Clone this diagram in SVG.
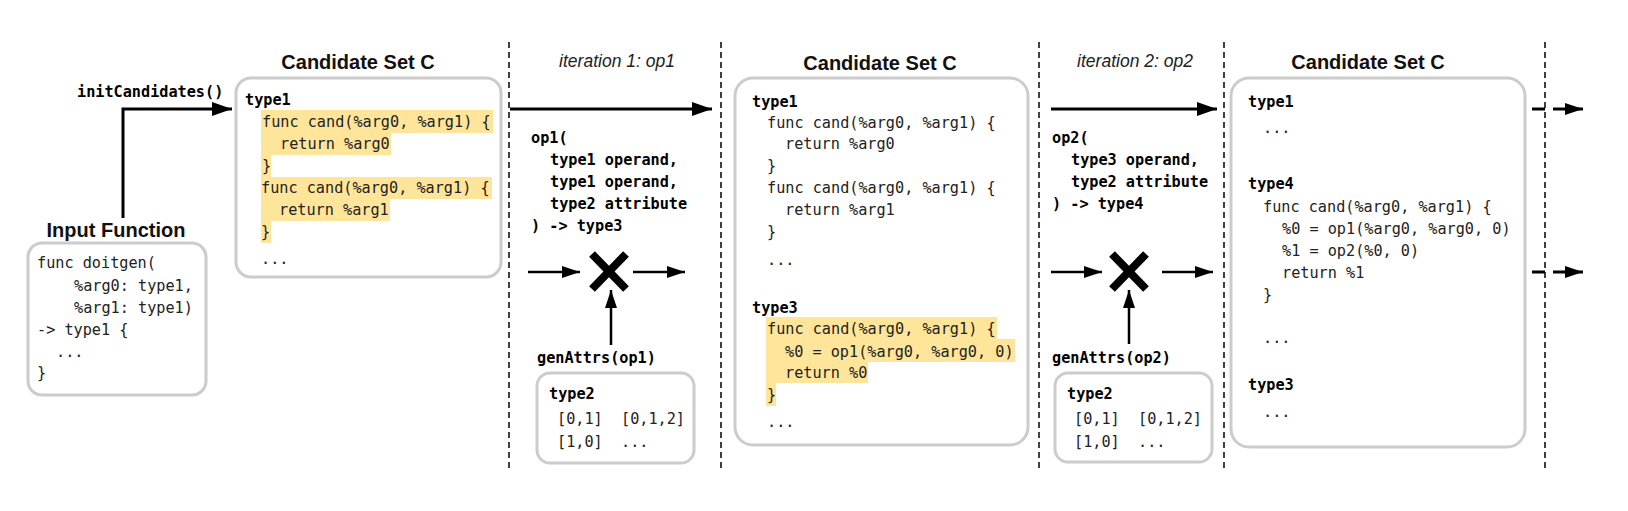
<svg xmlns="http://www.w3.org/2000/svg" width="1628" height="511" viewBox="0 0 1628 511">
<style>
.title{font-family:"Liberation Sans",Arial,sans-serif;font-weight:bold;font-size:20px;fill:#111;text-anchor:middle}
.iter{font-family:"Liberation Sans",Arial,sans-serif;font-style:italic;font-size:17.5px;fill:#222;text-anchor:middle}
.code{font-family:"DejaVu Sans Mono","Liberation Mono",monospace;font-size:15.2px;fill:#222;white-space:pre}
.bcode{font-family:"DejaVu Sans Mono","Liberation Mono",monospace;font-size:15.2px;font-weight:bold;fill:#000;white-space:pre}
.box{fill:#fff;stroke:#cccccc;stroke-width:3}
.hl{fill:#ffe59a}
.sep{stroke:#111;stroke-width:1.6;stroke-dasharray:6 4;fill:none}
.arr{stroke:#000;stroke-width:3;fill:none}
.sarr{stroke:#000;stroke-width:2.5;fill:none}
.cross{stroke:#000;stroke-width:8;fill:none}
</style>
<defs>
<marker id="ah" markerUnits="userSpaceOnUse" markerWidth="20" markerHeight="14" refX="20" refY="7" orient="auto"><path d="M0,0 L20,7 L0,14 z" fill="#000"/></marker>
<marker id="sah" markerUnits="userSpaceOnUse" markerWidth="18" markerHeight="12" refX="18" refY="6" orient="auto"><path d="M0,0 L18,6 L0,12 z" fill="#000"/></marker>
</defs>
<rect width="1628" height="511" fill="#fff"/>

<g id="separators">
<line class="sep" x1="509" y1="42" x2="509" y2="468"/>
<line class="sep" x1="721" y1="42" x2="721" y2="468"/>
<line class="sep" x1="1039" y1="42" x2="1039" y2="468"/>
<line class="sep" x1="1224" y1="42" x2="1224" y2="468"/>
<line class="sep" x1="1545" y1="42" x2="1545" y2="468"/>
</g>

<g id="input-function">
<text class="title" x="116" y="237">Input Function</text>
<rect class="box" x="28" y="243" width="178" height="152" rx="14"/>
<text class="code" x="37" y="268">func doitgen(</text>
<text class="code" x="74" y="291">%arg0: type1,</text>
<text class="code" x="74" y="313">%arg1: type1)</text>
<text class="code" x="37" y="335">-&gt; type1 {</text>
<text class="code" x="56" y="357">...</text>
<text class="code" x="37" y="378">}</text>
</g>

<g id="candidate-set-1">
<text class="title" x="358" y="69">Candidate Set C</text>
<rect class="box" x="236" y="78" width="265" height="199" rx="15"/>
<rect class="hl" x="261" y="110" width="232" height="23"/>
<rect class="hl" x="261" y="133" width="130" height="22"/>
<rect class="hl" x="261" y="155" width="10" height="22"/>
<rect class="hl" x="261" y="177" width="231" height="22"/>
<rect class="hl" x="261" y="199" width="129" height="22"/>
<rect class="hl" x="261" y="221" width="10" height="22"/>
<text class="bcode" x="245" y="105">type1</text>
<text class="code" x="262" y="127">func cand(%arg0, %arg1) {</text>
<text class="code" x="280" y="149">return %arg0</text>
<text class="code" x="262" y="171">}</text>
<text class="code" x="261" y="193">func cand(%arg0, %arg1) {</text>
<text class="code" x="279" y="215">return %arg1</text>
<text class="code" x="261" y="237">}</text>
<text class="code" x="261" y="264">...</text>
</g>

<g id="iteration-1">
<text class="iter" x="617" y="67">iteration 1: op1</text>
<text class="bcode" x="531" y="143">op1(</text>
<text class="bcode" x="550" y="165">type1 operand,</text>
<text class="bcode" x="550" y="187">type1 operand,</text>
<text class="bcode" x="550" y="209">type2 attribute</text>
<text class="bcode" x="531" y="231">) -&gt; type3</text>
<line class="cross" x1="592" y1="254" x2="626" y2="289"/>
<line class="cross" x1="626" y1="254" x2="592" y2="289"/>
<text class="bcode" x="537" y="363">genAttrs(op1)</text>
</g>

<g id="attrs-1">
<rect class="box" x="537" y="373" width="157" height="90" rx="13"/>
<text class="bcode" x="549" y="399">type2</text>
<text class="code" x="557" y="424">[0,1]  [0,1,2]</text>
<text class="code" x="557" y="447">[1,0]  ...</text>
</g>

<g id="candidate-set-2">
<text class="title" x="880" y="70">Candidate Set C</text>
<rect class="box" x="735" y="78" width="293" height="367" rx="18"/>
<rect class="hl" x="766" y="317" width="231" height="22"/>
<rect class="hl" x="766" y="339" width="249" height="23"/>
<rect class="hl" x="766" y="362" width="102" height="21"/>
<rect class="hl" x="766" y="383" width="10" height="23"/>
<text class="bcode" x="752" y="107">type1</text>
<text class="code" x="767" y="128">func cand(%arg0, %arg1) {</text>
<text class="code" x="785" y="149">return %arg0</text>
<text class="code" x="767" y="171">}</text>
<text class="code" x="767" y="193">func cand(%arg0, %arg1) {</text>
<text class="code" x="785" y="215">return %arg1</text>
<text class="code" x="767" y="237">}</text>
<text class="code" x="767" y="265">...</text>
<text class="bcode" x="752" y="313">type3</text>
<text class="code" x="767" y="334">func cand(%arg0, %arg1) {</text>
<text class="code" x="785" y="357">%0 = op1(%arg0, %arg0, 0)</text>
<text class="code" x="785" y="378">return %0</text>
<text class="code" x="767" y="400">}</text>
<text class="code" x="767" y="427">...</text>
</g>

<g id="iteration-2">
<text class="iter" x="1135" y="67">iteration 2: op2</text>
<text class="bcode" x="1052" y="143">op2(</text>
<text class="bcode" x="1071" y="165">type3 operand,</text>
<text class="bcode" x="1071" y="187">type2 attribute</text>
<text class="bcode" x="1052" y="209">) -&gt; type4</text>
<line class="cross" x1="1112" y1="254" x2="1146" y2="289"/>
<line class="cross" x1="1146" y1="254" x2="1112" y2="289"/>
<text class="bcode" x="1052" y="363">genAttrs(op2)</text>
</g>

<g id="attrs-2">
<rect class="box" x="1055" y="373" width="157" height="89" rx="13"/>
<text class="bcode" x="1067" y="399">type2</text>
<text class="code" x="1074" y="424">[0,1]  [0,1,2]</text>
<text class="code" x="1074" y="447">[1,0]  ...</text>
</g>

<g id="candidate-set-3">
<text class="title" x="1368" y="69">Candidate Set C</text>
<rect class="box" x="1231" y="78" width="294" height="369" rx="18"/>
<text class="bcode" x="1248" y="107">type1</text>
<text class="code" x="1263" y="133">...</text>
<text class="bcode" x="1248" y="189">type4</text>
<text class="code" x="1263" y="212">func cand(%arg0, %arg1) {</text>
<text class="code" x="1282" y="234">%0 = op1(%arg0, %arg0, 0)</text>
<text class="code" x="1282" y="256">%1 = op2(%0, 0)</text>
<text class="code" x="1282" y="278">return %1</text>
<text class="code" x="1263" y="300">}</text>
<text class="code" x="1263" y="343">...</text>
<text class="bcode" x="1248" y="390">type3</text>
<text class="code" x="1263" y="417">...</text>
</g>

<g id="connectors">
<text class="bcode" x="77" y="97">initCandidates()</text>
<polyline class="arr" points="123,218 123,109 232,109" marker-end="url(#ah)"/>
<line class="arr" x1="510" y1="109" x2="712" y2="109" marker-end="url(#ah)"/>
<line class="sarr" x1="528" y1="272" x2="580" y2="272" marker-end="url(#sah)"/>
<line class="sarr" x1="633" y1="272" x2="685" y2="272" marker-end="url(#sah)"/>
<line class="sarr" x1="611" y1="345" x2="611" y2="290" marker-end="url(#sah)"/>
<line class="arr" x1="1051" y1="109" x2="1217" y2="109" marker-end="url(#ah)"/>
<line class="sarr" x1="1051" y1="272" x2="1102" y2="272" marker-end="url(#sah)"/>
<line class="sarr" x1="1162" y1="272" x2="1213" y2="272" marker-end="url(#sah)"/>
<line class="sarr" x1="1129" y1="344" x2="1129" y2="290" marker-end="url(#sah)"/>
<line class="arr" x1="1532" y1="109" x2="1545" y2="109"/>
<line class="arr" x1="1553" y1="109" x2="1583" y2="109" marker-end="url(#sah)"/>
<line class="arr" x1="1532" y1="272" x2="1545" y2="272"/>
<line class="arr" x1="1553" y1="272" x2="1583" y2="272" marker-end="url(#sah)"/>
</g>
</svg>
